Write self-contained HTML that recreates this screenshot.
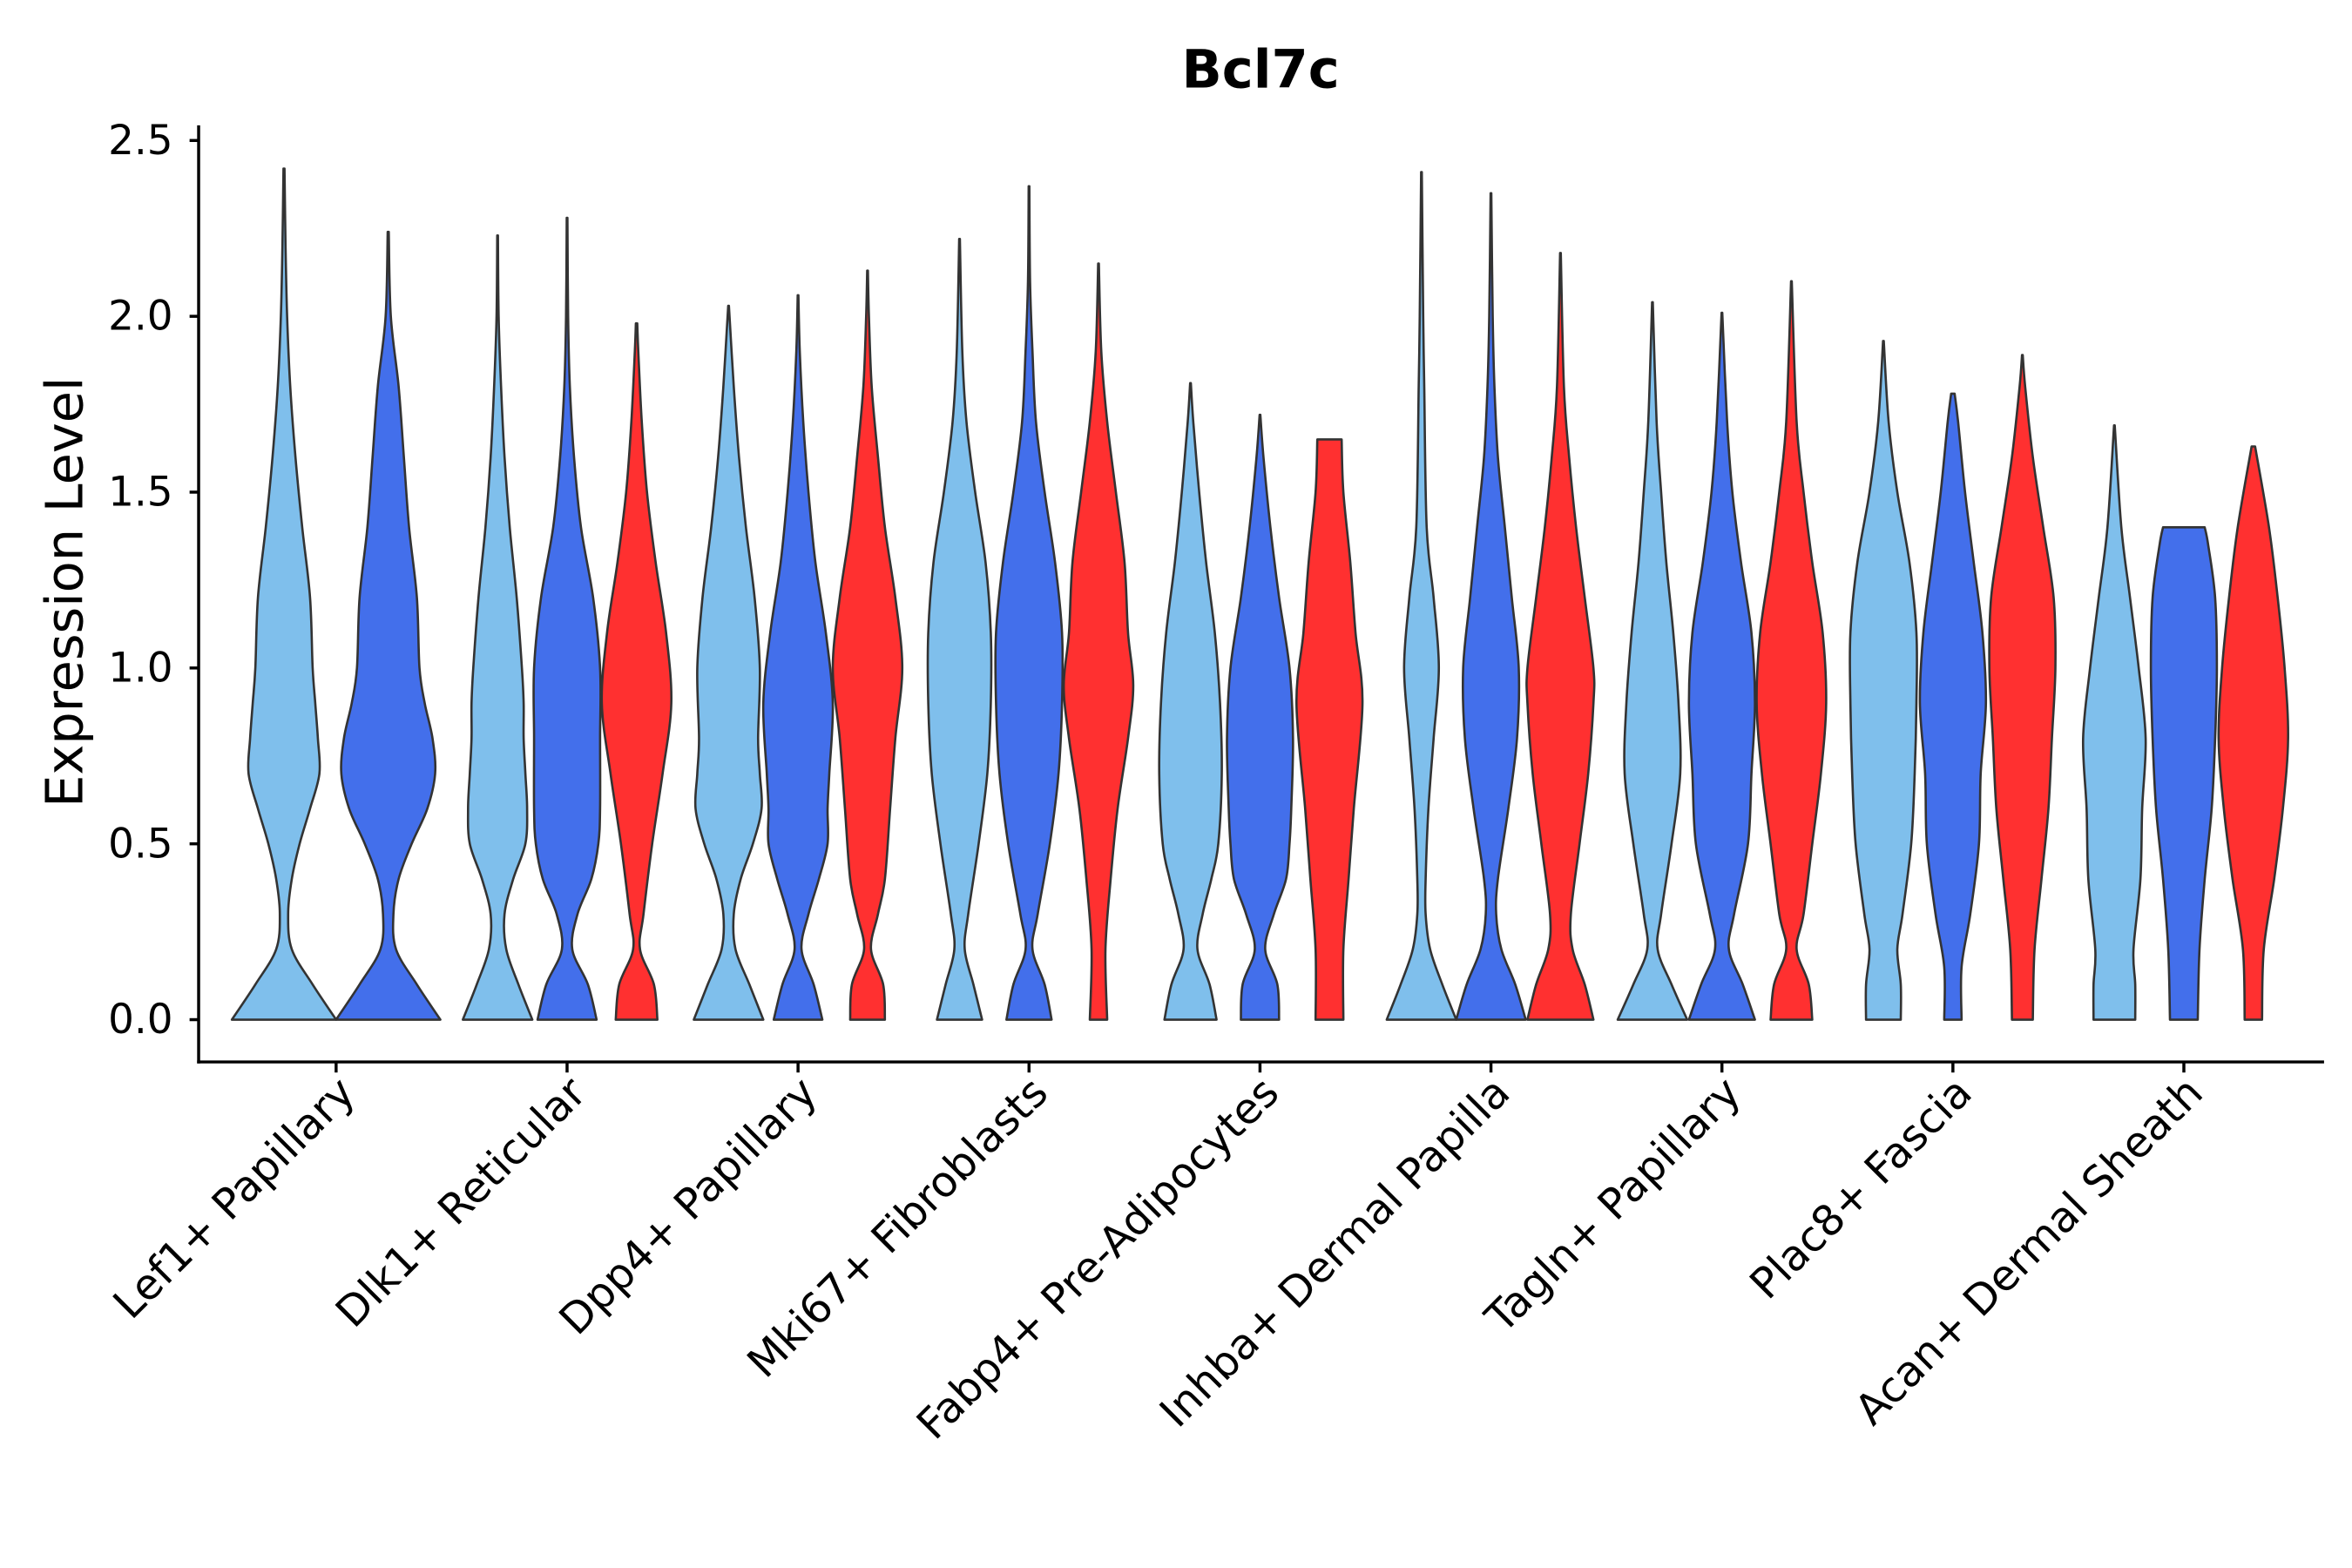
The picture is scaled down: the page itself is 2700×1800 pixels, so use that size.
<!DOCTYPE html>
<html><head><meta charset="utf-8"><style>
html,body{margin:0;padding:0;background:#fff}
svg{display:block}
text{font-family:"DejaVu Sans","Liberation Sans",sans-serif;fill:#000}
</style></head><body>
<svg id="chart" width="2700" height="1800" viewBox="0 0 1556 1038" xmlns="http://www.w3.org/2000/svg">
<rect width="1556" height="1038" fill="#fff"/>
<text x="834" y="58" text-anchor="middle" font-size="35" font-weight="bold">Bcl7c</text>
<text transform="translate(54,392) rotate(-90)" text-anchor="middle" font-size="34">Expression Level</text>
<g id="violins"></g>
<g id="axes"></g>
</svg>
<script>
const categories = ["Lef1+ Papillary","Dlk1+ Reticular","Dpp4+ Papillary","Mki67+ Fibroblasts","Fabp4+ Pre-Adipocytes","Inhba+ Dermal Papilla","Tagln+ Papillary","Plac8+ Fascia","Acan+ Dermal Sheath"];
const yTicks = [0, 0.5, 1.0, 1.5, 2.0, 2.5];
const yTickLabels = ["0.0","0.5","1.0","1.5","2.0","2.5"];
const groupColors = ["#7FBFEC","#436FEB","#FF3030"];
const violinGroups = [[0,1],[0,1,2],[0,1,2],[0,1,2],[0,1,2],[0,1,2],[0,1,2],[0,1,2],[0,1,2]];
const lef1Light = [[0,0.1,0.2,0.3,0.4,0.5,0.6,0.7,0.8,0.9,1.0,1.2,1.4,1.6,1.8,2.0,2.2,2.42],[1,0.55,0.15,0.08,0.15,0.3,0.5,0.68,0.65,0.6,0.55,0.5,0.35,0.22,0.12,0.06,0.03,0.01]];
const lef1Blue = [[0,0.1,0.2,0.3,0.4,0.5,0.6,0.7,0.8,0.9,1.0,1.2,1.4,1.6,1.8,2.0,2.24],[1,0.55,0.15,0.1,0.2,0.45,0.75,0.9,0.85,0.7,0.6,0.55,0.4,0.3,0.2,0.05,0.01]];
const dlk1Light = [[0,0.1,0.2,0.3,0.4,0.5,0.6,0.7,0.8,0.9,1.0,1.2,1.4,1.6,1.8,2.0,2.23],[1,0.6,0.25,0.2,0.45,0.8,0.85,0.8,0.75,0.75,0.7,0.55,0.35,0.2,0.1,0.03,0.01]];
const dlk1Blue = [[0,0.1,0.2,0.3,0.4,0.5,0.6,0.8,1.0,1.2,1.4,1.6,1.8,2.0,2.28],[0.85,0.6,0.15,0.3,0.7,0.9,0.95,0.95,0.95,0.75,0.4,0.2,0.08,0.03,0.01]];
const dlk1Red = [[0,0.1,0.2,0.3,0.5,0.7,0.9,1.1,1.3,1.5,1.7,1.9,1.98],[0.6,0.5,0.1,0.2,0.45,0.75,1.0,0.85,0.55,0.3,0.15,0.05,0.02]];
const dpp4Light = [[0,0.1,0.2,0.3,0.4,0.5,0.6,0.7,0.8,1.0,1.2,1.4,1.6,1.8,2.03],[1,0.6,0.2,0.15,0.35,0.7,0.95,0.9,0.85,0.9,0.75,0.5,0.3,0.15,0.01]];
const dpp4Blue = [[0,0.1,0.2,0.3,0.4,0.5,0.6,0.7,0.9,1.1,1.3,1.5,1.7,1.9,2.06],[0.7,0.45,0.1,0.3,0.6,0.85,0.85,0.9,1.0,0.8,0.5,0.3,0.15,0.05,0.01]];
const dpp4Red = [[0,0.1,0.2,0.3,0.4,0.6,0.8,1.0,1.2,1.4,1.6,1.8,2.0,2.13],[0.5,0.45,0.1,0.3,0.5,0.65,0.8,1.0,0.8,0.5,0.3,0.12,0.04,0.01]];
const mki67Light = [[0,0.1,0.2,0.3,0.5,0.7,0.9,1.1,1.3,1.5,1.7,1.9,2.22],[0.65,0.4,0.15,0.25,0.55,0.8,0.9,0.9,0.75,0.45,0.2,0.08,0.01]];
const mki67Blue = [[0,0.1,0.2,0.3,0.5,0.7,0.9,1.1,1.3,1.5,1.7,1.9,2.1,2.37],[0.65,0.45,0.1,0.25,0.6,0.85,0.95,0.95,0.75,0.45,0.2,0.1,0.03,0.01]];
const mki67Red = [[0,0.2,0.4,0.6,0.8,0.95,1.1,1.3,1.5,1.7,1.9,2.15],[0.25,0.2,0.35,0.55,0.85,1.0,0.85,0.75,0.5,0.25,0.08,0.01]];
const fabp4Light = [[0,0.1,0.2,0.3,0.4,0.5,0.7,0.9,1.1,1.3,1.5,1.7,1.81],[0.75,0.55,0.2,0.35,0.6,0.8,0.9,0.85,0.7,0.45,0.25,0.08,0.01]];
const fabp4Blue = [[0,0.1,0.2,0.3,0.4,0.5,0.6,0.8,1.0,1.2,1.4,1.6,1.72],[0.55,0.5,0.15,0.4,0.75,0.85,0.9,0.95,0.85,0.55,0.3,0.1,0.01]];
const fabp4Red = [[0,0.2,0.4,0.6,0.9,1.1,1.3,1.5,1.65],[0.4,0.4,0.55,0.7,0.95,0.75,0.6,0.4,0.35]];
const inhbaLight = [[0,0.1,0.2,0.3,0.4,0.6,0.8,1.0,1.2,1.4,1.8,2.0,2.41],[1,0.6,0.25,0.12,0.12,0.2,0.35,0.5,0.35,0.15,0.08,0.05,0.01]];
const inhbaBlue = [[0,0.1,0.2,0.3,0.4,0.6,0.8,1.0,1.2,1.4,1.6,1.8,2.0,2.35],[1,0.7,0.3,0.15,0.2,0.5,0.75,0.8,0.6,0.4,0.2,0.1,0.05,0.01]];
const inhbaRed = [[0,0.1,0.2,0.3,0.5,0.7,0.9,1.0,1.2,1.4,1.6,1.8,2.18],[0.95,0.7,0.35,0.3,0.55,0.8,0.95,0.95,0.7,0.45,0.25,0.1,0.01]];
const taglnLight = [[0,0.1,0.2,0.3,0.5,0.7,0.9,1.1,1.3,1.5,1.7,2.04],[1,0.55,0.15,0.25,0.55,0.8,0.75,0.6,0.4,0.25,0.12,0.01]];
const taglnBlue = [[0,0.1,0.2,0.3,0.5,0.7,0.9,1.1,1.3,1.5,1.7,2.01],[0.95,0.6,0.2,0.35,0.75,0.85,0.95,0.85,0.55,0.3,0.15,0.01]];
const taglnRed = [[0,0.1,0.2,0.3,0.5,0.7,0.9,1.1,1.3,1.5,1.7,2.1],[0.6,0.5,0.15,0.35,0.6,0.85,1.0,0.9,0.6,0.35,0.15,0.01]];
const plac8Light = [[0,0.1,0.2,0.3,0.5,0.7,0.9,1.1,1.3,1.5,1.7,1.93],[0.5,0.5,0.4,0.55,0.8,0.9,0.95,0.95,0.75,0.4,0.15,0.01]];
const plac8Blue = [[0,0.15,0.3,0.5,0.7,0.9,1.1,1.3,1.5,1.7,1.78],[0.25,0.25,0.5,0.75,0.8,0.95,0.85,0.6,0.35,0.15,0.05]];
const plac8Red = [[0,0.2,0.4,0.6,0.8,1.0,1.2,1.4,1.6,1.8,1.89],[0.3,0.35,0.55,0.75,0.85,0.95,0.9,0.6,0.3,0.08,0.01]];
const acanLight = [[0,0.1,0.2,0.4,0.6,0.8,1.0,1.2,1.4,1.69],[0.6,0.6,0.55,0.75,0.8,0.9,0.7,0.45,0.2,0.01]];
const acanBlue = [[0,0.2,0.4,0.6,0.8,1.0,1.2,1.35,1.40],[0.4,0.45,0.6,0.8,0.9,0.95,0.9,0.7,0.6]];
const acanRed = [[0,0.2,0.4,0.6,0.8,1.0,1.2,1.4,1.63],[0.25,0.3,0.6,0.85,1.0,0.9,0.7,0.45,0.05]];
const violins = [
 [0,0,lef1Light],[0,1,lef1Blue],
 [1,0,dlk1Light],[1,1,dlk1Blue],[1,2,dlk1Red],
 [2,0,dpp4Light],[2,1,dpp4Blue],[2,2,dpp4Red],
 [3,0,mki67Light],[3,1,mki67Blue],[3,2,mki67Red],
 [4,0,fabp4Light],[4,1,fabp4Blue],[4,2,fabp4Red],
 [5,0,inhbaLight],[5,1,inhbaBlue],[5,2,inhbaRed],
 [6,0,taglnLight],[6,1,taglnBlue],[6,2,taglnRed],
 [7,0,plac8Light],[7,1,plac8Blue],[7,2,plac8Red],
 [8,0,acanLight],[8,1,acanBlue],[8,2,acanRed]
];

const NS = "http://www.w3.org/2000/svg";
const plot = {left:131, right:1538, top:83, bottom:703};
const catStart = 222, catStep = 152.9;
function xScale(i){ return catStart + i*catStep; }
function yScale(v){ return 675 - v*232.8; }
const dodgeWidth = 138;

function catmull(pts){
  let d = "";
  for(let i=0;i<pts.length-1;i++){
    const p0=pts[Math.max(0,i-1)], p1=pts[i], p2=pts[i+1], p3=pts[Math.min(pts.length-1,i+2)];
    const c1=[p1[0]+(p2[0]-p0[0])/6, p1[1]+(p2[1]-p0[1])/6];
    const c2=[p2[0]-(p3[0]-p1[0])/6, p2[1]-(p3[1]-p1[1])/6];
    d += ` C${c1[0].toFixed(2)},${c1[1].toFixed(2)} ${c2[0].toFixed(2)},${c2[1].toFixed(2)} ${p2[0].toFixed(2)},${p2[1].toFixed(2)}`;
  }
  return d;
}

const vg = document.getElementById("violins");
violins.forEach(v=>{
  const [ci, gi, prof] = v;
  const n = violinGroups[ci].length;
  const slot = dodgeWidth/n;
  const cx = xScale(ci) - dodgeWidth/2 + slot*(gi+0.5);
  const half = slot/2;
  const lv = prof[0], wd = prof[1];
  const left = lv.map((l,k)=>[cx - wd[k]*half, yScale(l)]);
  const right = lv.map((l,k)=>[cx + wd[k]*half, yScale(l)]).reverse();
  let d = `M${left[0][0].toFixed(2)},${left[0][1].toFixed(2)}` + catmull(left) +
          ` L${right[0][0].toFixed(2)},${right[0][1].toFixed(2)}` + catmull(right) + " Z";
  const p = document.createElementNS(NS,"path");
  p.setAttribute("d", d);
  p.setAttribute("fill", groupColors[gi]);
  p.setAttribute("stroke", "#333");
  p.setAttribute("stroke-width", "1.5");
  p.setAttribute("stroke-linejoin", "round");
  
  
  vg.appendChild(p);
});

const ag = document.getElementById("axes");
function line(x1,y1,x2,y2,name){
  const l=document.createElementNS(NS,"line");
  l.setAttribute("x1",x1);l.setAttribute("y1",y1);l.setAttribute("x2",x2);l.setAttribute("y2",y2);
  l.setAttribute("stroke","#000");l.setAttribute("stroke-width","2");
  
  
  ag.appendChild(l);
}
line(plot.left, plot.top, plot.left, plot.bottom+1, "y-axis-line");
line(plot.left-1, plot.bottom, plot.right, plot.bottom, "x-axis-line");
yTicks.forEach((t,k)=>{
  const y=yScale(t);
  line(plot.left-6, y, plot.left, y, "y-tick");
  const tx=document.createElementNS(NS,"text");
  tx.setAttribute("x", plot.left-17); tx.setAttribute("y", y+9);
  tx.setAttribute("text-anchor","end"); tx.setAttribute("font-size","27");
  tx.textContent = yTickLabels[k];
  
  
  ag.appendChild(tx);
});
categories.forEach((c,i)=>{
  const x=xScale(i);
  line(x, plot.bottom, x, plot.bottom+7, "x-tick");
  const tx=document.createElementNS(NS,"text");
  tx.setAttribute("transform", `translate(${x+14},${plot.bottom+22}) rotate(-45)`);
  tx.setAttribute("text-anchor","end"); tx.setAttribute("font-size","28");
  tx.textContent = c;
  
  
  ag.appendChild(tx);
});
</script>
</body></html>
